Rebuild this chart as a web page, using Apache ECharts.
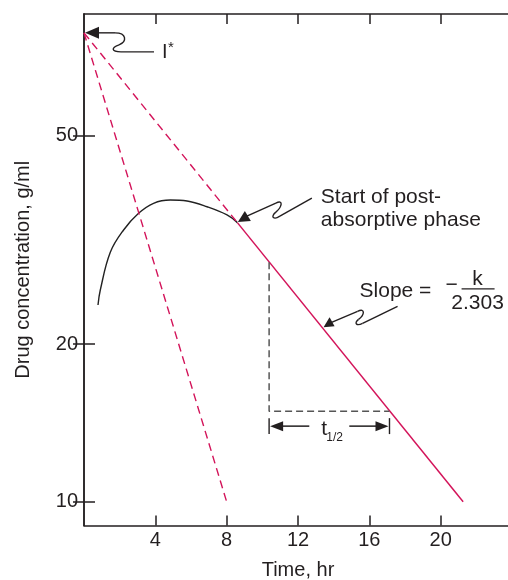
<!DOCTYPE html>
<html><head><meta charset="utf-8">
<script src="https://cdn.jsdelivr.net/npm/echarts@6/dist/echarts.min.js"></script>
<style>html,body{margin:0;padding:0;background:#fff}#c{width:508px;height:580px}</style>
</head><body><div id="c"></div>
<script>
// ---- data (time in hr, concentration in g/ml) ----
const timeTicks = [4, 8, 12, 16, 20];
const concTicks = [10, 20, 50];
const curveTime = [0.785, 0.914, 1.475, 2.22, 3.06, 3.9, 4.84, 5.78, 6.9, 8.02, 8.6];
const curveConc = [23.77, 25.39, 29.97, 33.06, 35.58, 37.18, 37.72, 37.55, 36.62, 35.32, 34.15];
const terminalTime = [8.6, 21.26];
const terminalConc = [34.15, 10];
const extrapTime = [0, 8.6];
const extrapConc = [78.7, 34.15];
const residualTime = [0, 8];
const residualConc = [78.7, 10];
const halfLifeTime = [10.38, 10.38, 17.13];
const halfLifeConc = [28.7, 14.9, 14.9];
const tHalfConc = [14.45, 13.95, 13.47]; // bar top, arrow, bar bottom
const interceptPoint = [0, 78.7];
const postAbsPoint = [8.6, 34.15];
const slopePoint = [13.35, 21.4];

const FONT = '"Liberation Sans", Arial, Helvetica, sans-serif';
const INK = '#231f20';
const RED = '#d3145a';
const lg = v => Math.log10(v);
const zip = (xs, ys) => xs.map((x, i) => [x, lg(ys[i])]);

const chart = echarts.init(document.getElementById('c'), null, {renderer: 'canvas'});
const yMin = lg(9.01), yMax = lg(85.5);
const axisStyle = {lineStyle: {color: INK, width: 1.5}};
const option = {
  animation: false,
  backgroundColor: '#fff',
  grid: {left: 84, right: -4, top: 14, bottom: 54.5, containLabel: false, outerBoundsMode: 'none'},
  xAxis: [
    {type: 'value', min: 0, max: 24, interval: 4, position: 'bottom',
     name: 'Time, hr', nameLocation: 'middle', nameGap: 35,
     nameTextStyle: {fontFamily: FONT, fontSize: 20, color: INK},
     axisLine: axisStyle, splitLine: {show: false},
     axisTick: {inside: true, length: 10, lineStyle: {color: INK, width: 1.5}, customValues: timeTicks},
     axisLabel: {fontFamily: FONT, fontSize: 20, color: INK, margin: 5, customValues: timeTicks}},
    {type: 'value', min: 0, max: 24, interval: 4, position: 'top',
     axisLine: axisStyle, splitLine: {show: false},
     axisTick: {inside: true, length: 10, lineStyle: {color: INK, width: 1.5}, customValues: timeTicks},
     axisLabel: {show: false}}
  ],
  yAxis: [
    {type: 'value', min: yMin, max: yMax, position: 'left',
     name: 'Drug concentration, g/ml', nameLocation: 'middle', nameGap: 51,
     nameTextStyle: {fontFamily: FONT, fontSize: 20, color: INK},
     axisLine: {show: true, lineStyle: {color: INK, width: 1.5}}, splitLine: {show: false},
     axisTick: {show: true, inside: true, length: 11, lineStyle: {color: INK, width: 1.5}, customValues: concTicks.map(lg)},
     axisLabel: {fontFamily: FONT, fontSize: 20, color: INK, margin: 6, customValues: concTicks.map(lg),
       formatter: v => String(Math.round(Math.pow(10, v)))}},
    {type: 'value', min: yMin, max: yMax, position: 'right',
     axisLine: {show: true, lineStyle: {color: INK, width: 1.5}}, splitLine: {show: false},
     axisTick: {show: true, inside: true, length: 11, lineStyle: {color: INK, width: 1.5}, customValues: concTicks.map(lg)},
     axisLabel: {show: false}}
  ],
  series: [
    {name: 'curve', type: 'line', data: zip(curveTime, curveConc), smooth: 0.4, showSymbol: false,
     lineStyle: {color: '#222', width: 1.4}},
    {name: 'terminal', type: 'line', data: zip(terminalTime, terminalConc), showSymbol: false,
     lineStyle: {color: RED, width: 1.5}},
    {name: 'extrapolated', type: 'line', data: zip(extrapTime, extrapConc), showSymbol: false,
     lineStyle: {color: RED, width: 1.4, type: [8, 5]}},
    {name: 'residual', type: 'line', data: zip(residualTime, residualConc), showSymbol: false,
     lineStyle: {color: RED, width: 1.4, type: [8, 5]}},
    {name: 'halflife', type: 'line', data: zip(halfLifeTime, halfLifeConc), showSymbol: false,
     lineStyle: {color: '#555', width: 1.5, type: [7, 4]}}
  ]
};
chart.setOption(option);

const px = (t, c) => chart.convertToPixel({xAxisIndex: 0, yAxisIndex: 0}, [t, lg(c)]);
const g = [];
const txt = (x, y, text, opts) => g.push(Object.assign({type: 'text', x, y, z: 100,
  style: Object.assign({text, fontFamily: FONT, fontSize: 21, fill: INK, textVerticalAlign: 'middle', textAlign: 'left'}, opts || {})}));
const lineEl = (x1, y1, x2, y2, w) => g.push({type: 'line', z: 100, shape: {x1, y1, x2, y2}, style: {stroke: INK, lineWidth: w || 1.4}});
// simple path: list of segments relative to origin: ['L',x,y] or ['C',c1x,c1y,c2x,c2y,x,y]
const path = (ox, oy, start, segs) => {
  let cx = start[0], cy = start[1];
  segs.forEach(s => {
    if (s[0] === 'L') {
      lineEl(ox + cx, oy + cy, ox + s[1], oy + s[2]);
      cx = s[1]; cy = s[2];
    } else {
      g.push({type: 'bezierCurve', z: 100, shape: {x1: ox + cx, y1: oy + cy, cpx1: ox + s[1], cpy1: oy + s[2],
        cpx2: ox + s[3], cpy2: oy + s[4], x2: ox + s[5], y2: oy + s[6]}, style: {stroke: INK, lineWidth: 1.4, fill: null}});
      cx = s[5]; cy = s[6];
    }
  });
};
const tri = (pts) => g.push({type: 'polygon', z: 100, shape: {points: pts}, style: {fill: INK}});

// I* annotation
const I0 = px(interceptPoint[0], interceptPoint[1]);
const ix = I0[0] + 1, iy = I0[1];
tri([[ix, iy], [ix + 14, iy - 6], [ix + 14, iy + 6]]);
path(ix, iy, [13, 0], [['L', 30, 0], ['C', 42, 0, 42, 9, 34, 12], ['C', 26, 15, 26, 19, 36, 19], ['L', 69, 19]]);
txt(ix + 77, iy + 20, 'I', {fontSize: 20});
txt(ix + 83, iy + 15, '*', {fontSize: 15});

// Start of post-absorptive phase
const P0 = px(postAbsPoint[0], postAbsPoint[1]);
const ax = P0[0] + 0.5, ay = P0[1] - 0.5;
tri([[ax, ay], [ax + 7, ay - 11], [ax + 13, ay - 1]]);
path(ax, ay, [9, -6], [['L', 38, -19], ['C', 46, -23, 44, -15, 38, -10], ['C', 32, -5, 36, -2, 42, -6], ['L', 74, -24]]);
txt(ax + 83, ay - 25, 'Start of post-');
txt(ax + 83, ay - 1.5, 'absorptive phase');

// Slope annotation
const S0 = px(slopePoint[0], slopePoint[1]);
const sx = S0[0] + 1.5, sy = S0[1] - 1.5;
tri([[sx, sy], [sx + 6, sy - 10], [sx + 11, sy - 1]]);
path(sx, sy, [8, -5], [['L', 34, -16], ['C', 42, -20, 41, -12, 35, -8], ['C', 30, -4, 33, -1, 39, -4], ['L', 74, -21]]);
txt(sx + 36, sy - 36.5, 'Slope =');
txt(sx + 122, sy - 42.5, '\u2212');
lineEl(sx + 138, sy - 38.5, sx + 171, sy - 38.5, 1.4);
txt(sx + 154, sy - 48, 'k', {textAlign: 'center'});
txt(sx + 154, sy - 24.5, '2.303', {textAlign: 'center'});

// t1/2 dimension
const L = px(halfLifeTime[0], tHalfConc[1]);
const R = px(halfLifeTime[2], tHalfConc[1]);
const yTop = px(0, tHalfConc[0])[1], yBot = px(0, tHalfConc[2])[1], yA = L[1];
lineEl(L[0], yTop, L[0], yBot, 1.4);
lineEl(R[0], yTop, R[0], yBot, 1.4);
const mid = (L[0] + R[0]) / 2;
lineEl(L[0] + 10, yA, mid - 20, yA, 1.5);
lineEl(mid + 20, yA, R[0] - 10, yA, 1.5);
tri([[L[0] + 1, yA], [L[0] + 14, yA - 5], [L[0] + 14, yA + 5]]);
tri([[R[0] - 1, yA], [R[0] - 14, yA - 5], [R[0] - 14, yA + 5]]);
txt(mid - 8, yA + 3, 't', {fontSize: 21});
txt(mid - 3, yA + 12, '1/2', {fontSize: 12});

chart.setOption({graphic: g});
</script></body></html>
